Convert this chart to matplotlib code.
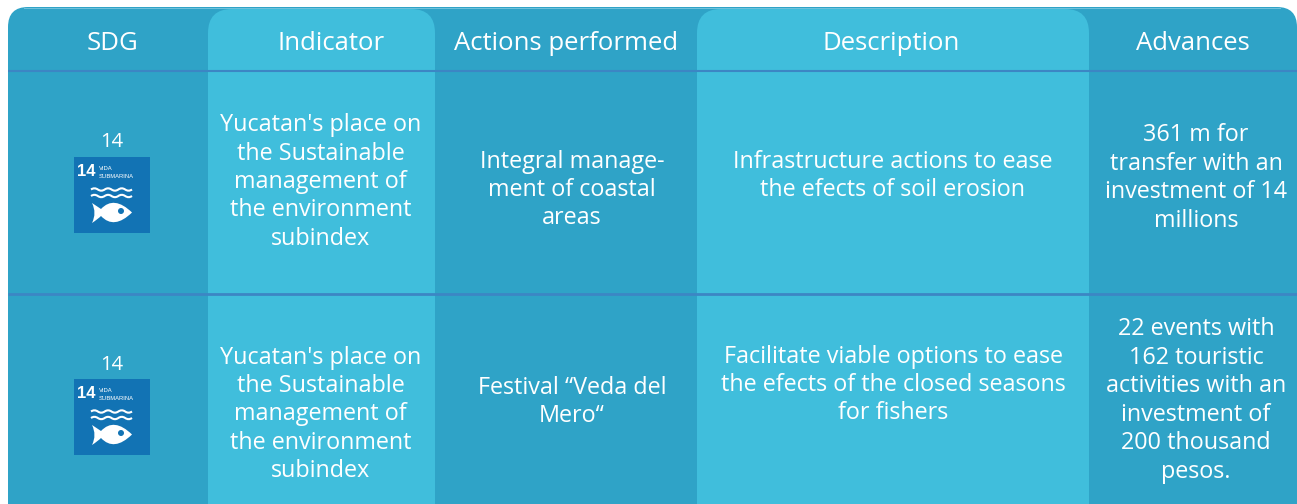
"""
sdg table
"""

import matplotlib
matplotlib.use("Agg")
import matplotlib.pyplot as plt
from matplotlib.patches import Circle, PathPatch, Rectangle
from matplotlib.path import Path

plt.rcParams["font.family"] = ["Open Sans", "DejaVu Sans"]

# ── Data ──────────────────────────────────────────────────────────────────────
headers = ["SDG", "Indicator", "Actions performed", "Description", "Advances"]
sdg_number = "14"
indicators = ["Yucatan's place on\nthe Sustainable\nmanagement of\nthe environment\nsubindex"] * 2
actions = ["Integral manage-\nment of coastal\nareas", "Festival “Veda del\nMero“"]
descriptions = ["Infrastructure actions to ease\nthe efects of soil erosion",
                "Facilitate viable options to ease\nthe efects of the closed seasons\nfor fishers"]
advances = ["361 m for\ntransfer with an\ninvestment of 14\nmillions",
            "22 events with\n162 touristic\nactivities with an\ninvestment of\n200 thousand\npesos."]

DARK = "#2fa3c7"
LIGHT = "#40bedc"
RULE = "#3c86c4"
ICON = "#1273b4"
BADGE_FONT = ["Liberation Sans", "DejaVu Sans"]

W, H = 1297, 504


def top_rounded(x0, x1, y0, y1, r):
    verts = [(x0, y1), (x0, y0 + r), (x0, y0), (x0 + r, y0),
             (x1 - r, y0), (x1, y0), (x1, y0 + r), (x1, y1), (x0, y1)]
    codes = [Path.MOVETO, Path.LINETO, Path.CURVE3, Path.CURVE3,
             Path.LINETO, Path.CURVE3, Path.CURVE3, Path.LINETO, Path.CLOSEPOLY]
    return Path(verts, codes)


def wave(x0, x1, y, n=3, amp=1.2):
    step = (x1 - x0) / (2 * n)
    verts = [(x0, y)]
    codes = [Path.MOVETO]
    for i in range(2 * n):
        sign = -1 if i % 2 == 0 else 1
        verts += [(x0 + (i + 0.5) * step, y + sign * amp * 2), (x0 + (i + 1) * step, y)]
        codes += [Path.CURVE3, Path.CURVE3]
    return Path(verts, codes)


def draw_icon(ax, x, y):
    # 76 px square SDG 14 badge, x/y = top left corner
    ax.add_patch(Rectangle((x, y), 76, 76, fc=ICON, ec="none", zorder=3))
    ax.text(x + 12, y + 14.5, "14", color="white", fontsize=12, fontweight="bold",
            family=BADGE_FONT, ha="center", va="center", zorder=4)
    ax.text(x + 25, y + 11, "VIDA", color="white", fontsize=4.2, family=BADGE_FONT,
            ha="left", va="center", zorder=4)
    ax.text(x + 25, y + 20, "SUBMARINA", color="white", fontsize=4.2, family=BADGE_FONT,
            ha="left", va="center", zorder=4)
    for dy in (32.5, 39):
        ax.add_patch(PathPatch(wave(x + 17, x + 58, y + dy), fc="none", ec="white", lw=1.5, zorder=4))
    # fish
    fish = Path(
        [(x + 18, y + 46), (x + 24, y + 50), (x + 27, y + 52),
         (x + 40, y + 38), (x + 58, y + 55.5),
         (x + 40, y + 73), (x + 27, y + 59),
         (x + 24, y + 62), (x + 18, y + 66),
         (x + 23, y + 56), (x + 18, y + 46)],
        [Path.MOVETO, Path.CURVE3, Path.CURVE3, Path.CURVE3, Path.CURVE3,
         Path.CURVE3, Path.CURVE3, Path.CURVE3, Path.CURVE3, Path.CURVE3, Path.CURVE3])
    ax.add_patch(PathPatch(fish, fc="white", ec="none", zorder=4))
    ax.add_patch(Circle((x + 47, y + 54), 3, fc=ICON, ec="none", zorder=5))


fig = plt.figure(figsize=(W / 100, H / 100), dpi=100)
ax = fig.add_axes([0, 0, 1, 1])
ax.set_xlim(0, W)
ax.set_ylim(H, 0)
ax.axis("off")

# background and the two lighter columns
ax.add_patch(PathPatch(top_rounded(8, 1297, 7, H, 20), fc=DARK, ec="none", zorder=1))
ax.add_patch(PathPatch(top_rounded(208, 435, 9, H, 24), fc=LIGHT, ec="none", zorder=2))
ax.add_patch(PathPatch(top_rounded(697, 1089, 9, H, 24), fc=LIGHT, ec="none", zorder=2))

ax.plot([24, 1280], [7.5, 7.5], color="#72c2dc", lw=0.7, zorder=2)
ax.plot([8, W], [71, 71], color=RULE, lw=1.5, zorder=3, solid_capstyle="butt")
ax.plot([8, W], [293.5, 293.5], color=RULE, lw=2, zorder=3, solid_capstyle="butt")

header_x = [112, 331, 566, 891, 1193]
for hx, label in zip(header_x, headers):
    ax.text(hx, 44, label, color="white", fontsize=18.5, ha="center", va="center", zorder=5)

col_x = [320.5, 572, 893, 1196]
cols = [indicators, actions, descriptions, advances]
centers = [[182, 414.5], [190, 402], [176, 385], [178, 400.5]]
for cx, col, ys in zip(col_x, cols, centers):
    for txt, cy in zip(col, ys):
        ax.text(cx, cy, txt, color="white", fontsize=16.8, ha="center", va="center",
                linespacing=1.245, zorder=5)

for num_y, icon_y in zip([142, 365], [157, 379]):
    ax.text(112, num_y, sdg_number, color="white", fontsize=14.5, ha="center", va="center", zorder=5)
    draw_icon(ax, 74, icon_y)

fig.savefig("out.png", dpi=100, facecolor="white")
